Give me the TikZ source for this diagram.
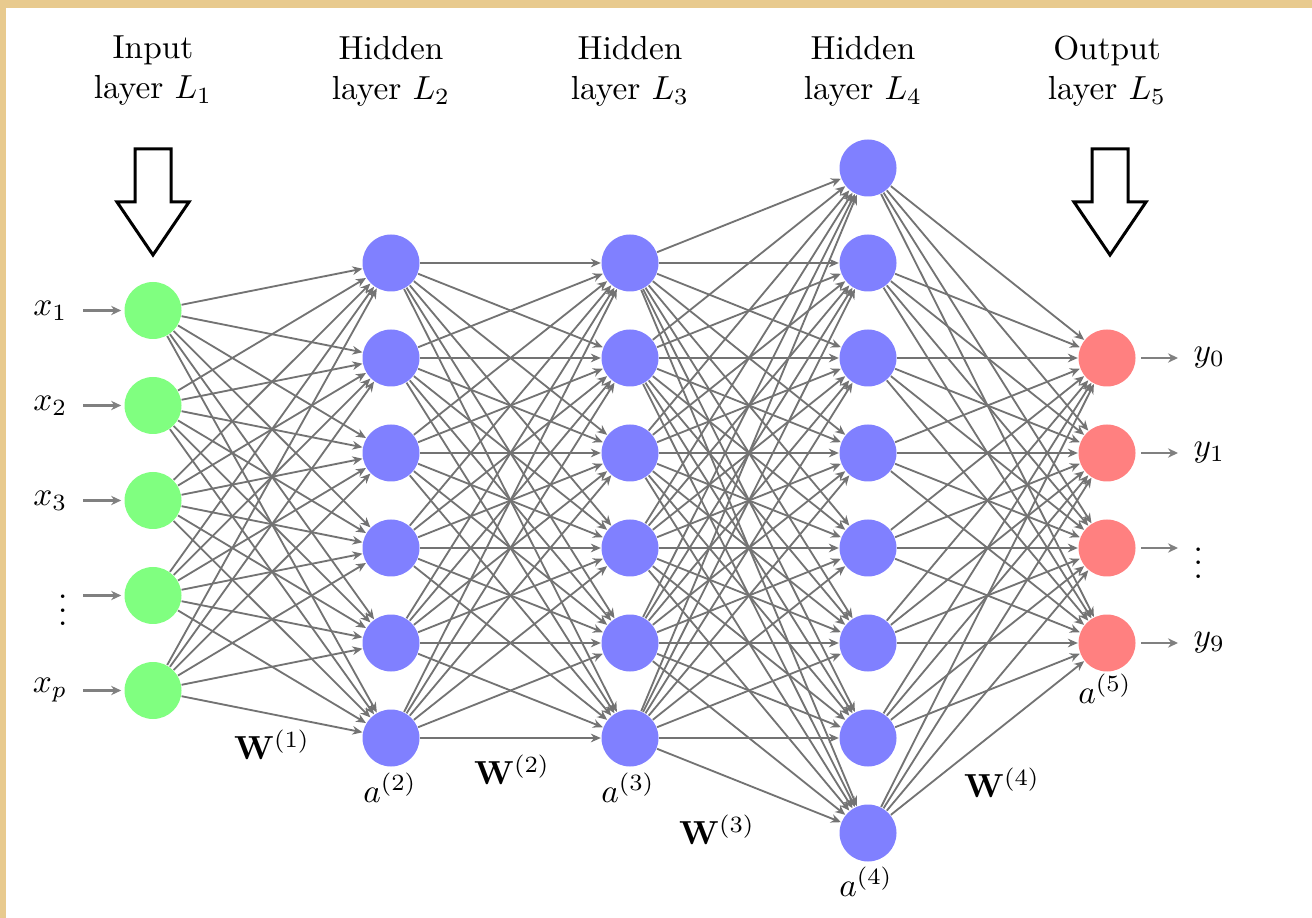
\documentclass[tikz,border=0pt]{standalone}
\usetikzlibrary{arrows.meta}
\definecolor{frametan}{RGB}{232,202,142}
\begin{document}
\begin{tikzpicture}[x=0.3pt,y=-0.3pt,
  neuron/.style={circle, minimum size=17.1pt, inner sep=0pt, draw=none},
  inneuron/.style={neuron, fill=green!50},
  hidneuron/.style={neuron, fill=blue!50},
  outneuron/.style={neuron, fill=red!50},
  edge/.style={draw=gray!90!black, line width=0.55pt, -{Stealth[length=3pt,width=2.6pt]}},
  ioarrow/.style={draw=gray, line width=0.7pt, -{Stealth[length=3pt,width=2.8pt]}},
  bigarrow/.style={draw=black, line width=0.9pt, fill=white},
  layerlabel/.style={align=center},
  inlabel/.style={anchor=east, inner sep=4.5pt},
  outlabel/.style={anchor=west, inner sep=4.5pt}
]
\useasboundingbox (0,0) rectangle (1312,918);
\fill[frametan] (0,0) rectangle (1312,8);
\fill[frametan] (0,0) rectangle (6,918);

% neurons
\foreach \i in {1,...,5} \node[inneuron] (I\i) at (153,{500.5+(\i-3)*95}) {};
\foreach \i in {1,...,6} \node[hidneuron] (A\i) at (391,{500.5+(\i-3.5)*95}) {};
\foreach \i in {1,...,6} \node[hidneuron] (B\i) at (630,{500.5+(\i-3.5)*95}) {};
\foreach \i in {1,...,8} \node[hidneuron] (C\i) at (868,{500.5+(\i-4.5)*95}) {};
\foreach \i in {1,...,4} \node[outneuron] (O\i) at (1107,{500.5+(\i-2.5)*95}) {};

% connections
\foreach \s in {1,...,5} \foreach \t in {1,...,6} \draw[edge] (I\s) -- (A\t);
\foreach \s in {1,...,6} \foreach \t in {1,...,6} \draw[edge] (A\s) -- (B\t);
\foreach \s in {1,...,6} \foreach \t in {1,...,8} \draw[edge] (B\s) -- (C\t);
\foreach \s in {1,...,8} \foreach \t in {1,...,4} \draw[edge] (C\s) -- (O\t);

% inputs
\foreach \i in {1,...,5} \coordinate (XI\i) at (83,{500.5+(\i-3)*95});
\node[inlabel] (XL1) at (XI1) {$x_1$};
\node[inlabel] (XL2) at (XI2) {$x_2$};
\node[inlabel] (XL3) at (XI3) {$x_3$};
\node[inlabel, yshift=-1.5pt] (XL4) at (XI4) {$\vdots$};
\node[inlabel] (XL5) at (XI5) {$x_p$};
\foreach \i in {1,...,5} \draw[ioarrow, shorten >=0.8pt] (XI\i) -- (I\i);

% outputs
\foreach \i in {1,...,4} \coordinate (YO\i) at (1178,{500.5+(\i-2.5)*95});
\node[outlabel] (YL1) at (YO1) {$y_0$};
\node[outlabel] (YL2) at (YO2) {$y_1$};
\node[outlabel, yshift=-1.5pt] (YL3) at (YO3) {$\vdots$};
\node[outlabel] (YL4) at (YO4) {$y_9$};
\foreach \i in {1,...,4} \draw[ioarrow, shorten <=1.5pt] (O\i) -- (YO\i);

% layer titles
\node[layerlabel] (T1) at (153,71) {Input\\layer $L_1$};
\node[layerlabel] (T2) at (391,71) {Hidden\\layer $L_2$};
\node[layerlabel] (T3) at (630,71) {Hidden\\layer $L_3$};
\node[layerlabel] (T4) at (863,71) {Hidden\\layer $L_4$};
\node[layerlabel] (T5) at (1107,71) {Output\\layer $L_5$};

% big arrows
\foreach \ax in {153,1110}
  \draw[bigarrow] (\ax-18,149) -- (\ax+18,149) -- (\ax+18,202) -- (\ax+36,202)
    -- (\ax,255) -- (\ax-36,202) -- (\ax-18,202) -- cycle;

% weight and activation labels
\node (W1) at (272,745) {$\mathbf{W}^{(1)}$};
\node (W2) at (512,770) {$\mathbf{W}^{(2)}$};
\node (W3) at (717,830) {$\mathbf{W}^{(3)}$};
\node (W4) at (1002,783) {$\mathbf{W}^{(4)}$};
\node (a2) at (390,788) {$a^{(2)}$};
\node (a3) at (628,788) {$a^{(3)}$};
\node (a4) at (866,882) {$a^{(4)}$};
\node (a5) at (1105,689) {$a^{(5)}$};
\end{tikzpicture}
\end{document}
